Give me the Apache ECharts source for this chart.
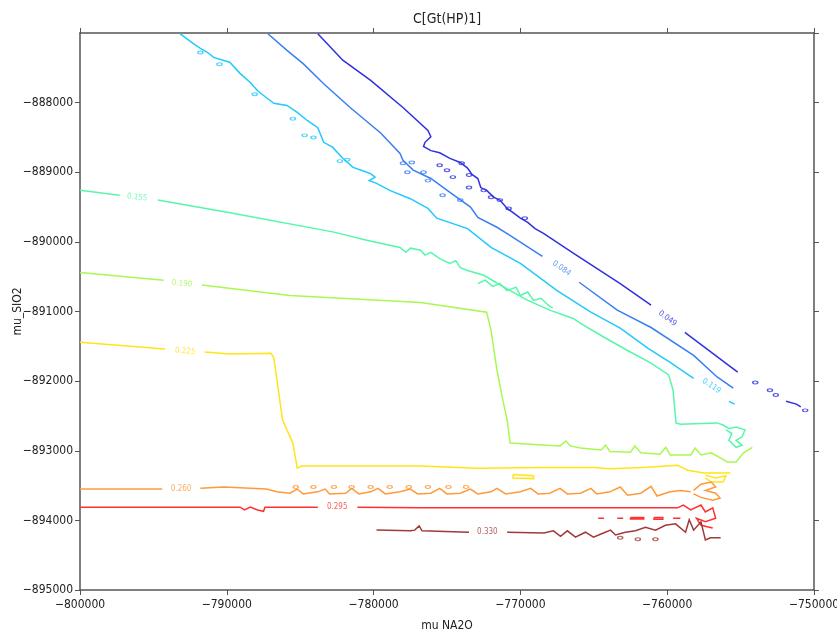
<!DOCTYPE html>
<html>
<head>
<meta charset="utf-8">
<script src="https://cdn.jsdelivr.net/npm/echarts@6.0.0/dist/echarts.min.js"></script>
<style>
  html, body { margin: 0; background: #fff; }
  #chart { width: 837px; height: 634px; }
</style>
</head>
<body>
<div id="chart"></div>
<script>
// contour levels and their labels
const LEVELS = ['0.049', '0.084', '0.119', '0.155', '0.190', '0.225', '0.260', '0.295', '0.330'];
const LABEL_X = [-759980, -767200, -756980, -796110, -793050, -792840, -793110, -782480, -772250];
const LABEL_Y = [-891100, -890380, -892070, -889360, -890600, -891570, -893550, -893810, -894170];
const LABEL_ROT = [-37, -35, -34, -6, -5, -4, 0, 0, 0];

// each level: list of polylines [mu NA2O, mu SIO2]
const LINES_049 = [
  [[-783800, -887010], [-782100, -887390], [-780200, -887680], [-778000, -888070], [-776300, -888400],
   [-776100, -888490], [-776500, -888570], [-776600, -888630], [-776100, -888690], [-775500, -888720],
   [-774800, -888800], [-774100, -888860], [-773600, -888940], [-773300, -889030], [-772900, -889090],
   [-772700, -889220], [-772300, -889260], [-771800, -889360], [-771400, -889400], [-770900, -889520],
   [-770500, -889580], [-770000, -889660], [-769500, -889720], [-769000, -889810], [-768400, -889880],
   [-766400, -890160], [-764800, -890380], [-763200, -890600], [-761100, -890910]],
  [[-758800, -891300], [-755200, -891870]],
  [[-751900, -892290], [-751200, -892330], [-750900, -892370]]
];
const BLOBS_049 = [
  [-774000, -888870], [-773500, -889040], [-773500, -889220], [-772500, -889260], [-772000, -889360],
  [-771400, -889400], [-770800, -889520], [-769700, -889660], [-775500, -888900], [-775000, -888970],
  [-774600, -889070], [-754000, -892020], [-753000, -892130], [-752600, -892200], [-750600, -892420]
];

const LINES_084 = [
  [[-787200, -887010], [-785900, -887250], [-784800, -887440], [-783400, -887730], [-781600, -888070],
   [-779500, -888440], [-778200, -888730], [-778000, -888830], [-777300, -888970], [-776100, -889090],
   [-774800, -889290], [-773400, -889500], [-772900, -889650], [-771600, -889790], [-770900, -889880],
   [-768500, -890210]],
  [[-766000, -890580], [-763400, -890980], [-761100, -891230], [-758200, -891630], [-756600, -891940],
   [-755500, -892100]]
];
const BLOBS_084 = [
  [-778000, -888870], [-777400, -888860], [-777700, -889000], [-776600, -889000], [-776300, -889120],
  [-775300, -889330], [-774100, -889400]
];

const LINES_119 = [
  [[-793200, -887010], [-792300, -887150], [-791800, -887220], [-791300, -887280], [-790900, -887350],
   [-789800, -887420], [-789100, -887580], [-788400, -887710], [-787900, -887830], [-787300, -887930],
   [-786800, -888010], [-785900, -888040], [-785200, -888140], [-784500, -888260], [-783800, -888360],
   [-783400, -888570], [-782800, -888640], [-782100, -888800], [-781400, -888930], [-780600, -888990],
   [-780200, -889020], [-779900, -889070], [-780300, -889120], [-779800, -889160], [-778900, -889260],
   [-777500, -889380], [-776300, -889520], [-775700, -889660], [-773600, -889810], [-772000, -890080],
   [-770000, -890310], [-767500, -890700], [-765200, -891010], [-763200, -891240], [-761300, -891530],
   [-759800, -891730], [-758200, -891960]],
  [[-755800, -892290], [-755400, -892330]]
];
const BLOBS_119 = [
  [-791800, -887280], [-790500, -887450], [-788100, -887880], [-785500, -888230], [-784700, -888470],
  [-784100, -888500], [-782300, -888840], [-781800, -888820]
];

const LINES_155 = [
  [[-800000, -889260], [-797300, -889330]],
  [[-794700, -889400], [-789600, -889590], [-782700, -889860], [-780400, -889980], [-778200, -890080],
   [-777800, -890150], [-777500, -890090], [-776800, -890120], [-776500, -890190], [-776100, -890150],
   [-775500, -890240], [-774800, -890310], [-774400, -890270], [-774100, -890370], [-773600, -890410],
   [-772500, -890480], [-770700, -890700], [-769500, -890840], [-768000, -890980], [-766400, -891100],
   [-765900, -891170], [-764300, -891370], [-762700, -891560], [-761100, -891740], [-759900, -891910],
   [-759600, -892130], [-759400, -892600], [-759100, -892620], [-756600, -892600], [-756200, -892630],
   [-755800, -892680], [-755300, -892660], [-754700, -892700], [-754900, -892800], [-755300, -892850],
   [-754900, -892920], [-755300, -892950], [-755800, -892850], [-755600, -892750], [-756000, -892700]],
  [[-772900, -890600], [-772400, -890550], [-771900, -890640], [-771400, -890600], [-770900, -890700],
   [-770300, -890650], [-770000, -890770], [-769500, -890720], [-769100, -890840], [-768600, -890810],
   [-768100, -890910], [-767800, -890950]]
];

const LINES_190 = [
  [[-800000, -890440], [-794300, -890550]],
  [[-791700, -890620], [-785700, -890770], [-776800, -890870], [-772300, -891010], [-772000, -891270],
   [-771600, -891840], [-771200, -892270], [-770900, -892560], [-770700, -892890], [-768200, -892920],
   [-767300, -892930], [-766900, -892860], [-766600, -892930], [-765900, -892960], [-764500, -892990],
   [-764200, -892920], [-763900, -893010], [-762500, -893020], [-762200, -892930], [-761800, -893030],
   [-760500, -893050], [-760100, -892950], [-759800, -893060], [-758400, -893060], [-758100, -892960],
   [-757700, -893060], [-757000, -893030], [-755900, -893160], [-755300, -893160], [-754800, -893030],
   [-754200, -892950]]
];

const LINES_225 = [
  [[-800000, -891440], [-794200, -891540]],
  [[-791500, -891580], [-789800, -891610], [-787000, -891600], [-786800, -891660], [-786200, -892560],
   [-785500, -892890], [-785200, -893250], [-784900, -893220], [-776800, -893220], [-772900, -893250],
   [-768400, -893240], [-765000, -893240], [-763900, -893260], [-761600, -893240], [-759300, -893210],
   [-758600, -893280], [-757500, -893320], [-755700, -893320]],
  [[-757400, -893350], [-756700, -893390], [-756000, -893360], [-756200, -893450], [-757000, -893450],
   [-757400, -893390]],
  [[-770500, -893340], [-769100, -893360], [-769100, -893400], [-770500, -893390], [-770500, -893340]]
];

const LINES_260 = [
  [[-800000, -893550], [-794400, -893550]],
  [[-791800, -893540], [-790200, -893520], [-787300, -893550], [-786600, -893590], [-785700, -893610],
   [-785200, -893550], [-784800, -893620], [-783800, -893590], [-783300, -893550], [-783000, -893620],
   [-781900, -893610], [-781500, -893540], [-781000, -893620], [-780200, -893590], [-779700, -893540],
   [-779200, -893620], [-778200, -893590], [-777500, -893550], [-777000, -893620], [-776100, -893610],
   [-775500, -893540], [-775000, -893620], [-774100, -893610], [-773400, -893550], [-772900, -893620],
   [-772000, -893590], [-771600, -893540], [-771000, -893620], [-770000, -893590], [-769300, -893540],
   [-768800, -893620], [-768000, -893610], [-767300, -893540], [-766800, -893620], [-765900, -893610],
   [-765200, -893540], [-764800, -893620], [-763900, -893590], [-763200, -893520], [-762700, -893640],
   [-761800, -893610], [-761100, -893510], [-760700, -893650], [-759800, -893590], [-759100, -893570],
   [-758400, -893590]],
  [[-758200, -893570], [-757700, -893480], [-757000, -893450], [-756700, -893520], [-757400, -893570],
   [-756700, -893610], [-756400, -893680], [-756900, -893710], [-757700, -893670], [-758200, -893620]]
];
const DOTS_260 = [
  [-785300, -893520], [-784100, -893520], [-782700, -893520], [-781500, -893520], [-780200, -893520],
  [-778900, -893520], [-777600, -893520], [-776300, -893520], [-774900, -893520], [-773700, -893520]
];

const LINES_295 = [
  [[-800000, -893810], [-789100, -893810], [-788800, -893850], [-788400, -893810], [-787900, -893850],
   [-787500, -893870], [-787400, -893810], [-783800, -893810]],
  [[-781100, -893810], [-776800, -893820], [-771400, -893820], [-764500, -893820], [-759300, -893820],
   [-758900, -893780], [-758400, -893850], [-757700, -893780], [-757400, -893880], [-756900, -893820],
   [-756700, -893970], [-757400, -894020], [-758000, -893970], [-757700, -894070], [-756900, -894110]],
  [[-764700, -893970], [-764300, -893970]],
  [[-763400, -893970], [-763000, -893970]],
  [[-762500, -893960], [-761600, -893960], [-761600, -893980], [-762500, -893980], [-762500, -893960]],
  [[-760900, -893960], [-760300, -893960], [-760300, -893985], [-760900, -893985], [-760900, -893960]],
  [[-759600, -893970], [-759100, -893970]]
];

const LINES_330 = [
  [[-779800, -894140], [-777500, -894150], [-777200, -894140], [-776900, -894080], [-776700, -894150],
   [-773500, -894170]],
  [[-770900, -894170], [-768400, -894180], [-767750, -894150], [-767270, -894230], [-766800, -894150],
   [-766250, -894240], [-765570, -894170], [-765020, -894240], [-764550, -894200], [-763860, -894140],
   [-763520, -894210], [-762840, -894170], [-762160, -894150], [-761480, -894100], [-760800, -894140],
   [-760120, -894070], [-759430, -894050], [-758750, -894170], [-758500, -893990], [-758200, -894140],
   [-757700, -894020], [-757400, -894280], [-757050, -894250], [-756360, -894250]]
];
const LOOPS_330 = [[-763200, -894250], [-762000, -894270], [-760800, -894270]];

const X_TICK_INTERVAL = 10000;
const Y_TICK_INTERVAL = 1000;

const COLORS = ['#3030e0', '#3a7ff2', '#22c8ff', '#55f7aa', '#a8f850', '#ffe41a', '#ff9a3a', '#ff3030', '#a03a3a'];
const FONT = '"DejaVu Sans Condensed", "DejaVu Sans", sans-serif';

const LINE_SETS = [LINES_049, LINES_084, LINES_119, LINES_155, LINES_190, LINES_225, LINES_260, LINES_295, LINES_330];
const MARK_SETS = [BLOBS_049, BLOBS_084, BLOBS_119, [], [], [], DOTS_260, [], LOOPS_330];

const minus = v => String(v).replace('-', '\u2212');

const chart = echarts.init(document.getElementById('chart'));

const series = [];
LINE_SETS.forEach((set, i) => {
  series.push({
    type: 'lines',
    coordinateSystem: 'cartesian2d',
    polyline: true,
    silent: true,
    lineStyle: { color: COLORS[i], width: 1.5, opacity: 1 },
    data: set.map(c => ({ coords: c }))
  });
  if (MARK_SETS[i].length) {
    series.push({
      type: 'scatter',
      silent: true,
      symbol: 'circle',
      symbolSize: [5, 3],
      itemStyle: { color: 'rgba(0,0,0,0)', borderColor: COLORS[i], borderWidth: 1.2 },
      data: MARK_SETS[i]
    });
  }
});

series.push({
  type: 'scatter',
  silent: true,
  symbolSize: 0,
  data: LEVELS.map((t, i) => ({
    value: [LABEL_X[i], LABEL_Y[i]],
    label: {
      show: true,
      position: 'inside',
      formatter: t,
      rotate: LABEL_ROT[i],
      color: COLORS[i],
      fontSize: 8,
      fontFamily: FONT
    }
  }))
});

const axisLine = { show: true, lineStyle: { color: '#555', width: 1.5 } };
const axisTick = { show: true, inside: false, length: 5, lineStyle: { color: '#555', width: 1 } };

chart.setOption({
  animation: false,
  backgroundColor: '#fff',
  title: {
    text: 'C[Gt(HP)1]',
    left: 408,
    top: 7,
    textStyle: { fontSize: 14, fontWeight: 'normal', color: '#222', fontFamily: FONT }
  },
  grid: { left: 80, right: 23, top: 33, bottom: 44, containLabel: false, outerBoundsMode: 'none' },
  xAxis: [
    {
      type: 'value', position: 'bottom',
      min: -800000, max: -750000, interval: X_TICK_INTERVAL,
      name: 'mu NA2O', nameLocation: 'middle', nameGap: 30,
      nameTextStyle: { fontSize: 12, color: '#222', fontFamily: FONT },
      axisLine, axisTick,
      axisLabel: { formatter: minus, fontSize: 12, color: '#222', margin: 9, fontFamily: FONT },
      splitLine: { show: false }
    },
    {
      type: 'value', position: 'top',
      min: -800000, max: -750000, interval: X_TICK_INTERVAL,
      axisLine, axisTick,
      axisLabel: { show: false },
      splitLine: { show: false }
    }
  ],
  yAxis: [
    {
      type: 'value', position: 'left',
      min: -895000, max: -887000, interval: Y_TICK_INTERVAL,
      name: 'mu_SIO2', nameLocation: 'middle', nameGap: 56, nameRotate: 90, nameMoveOverlap: false,
      nameTextStyle: { fontSize: 12, color: '#222', fontFamily: FONT },
      axisLine, axisTick,
      axisLabel: { formatter: minus, fontSize: 12, color: '#222', margin: 7, showMaxLabel: false, fontFamily: FONT },
      splitLine: { show: false }
    },
    {
      type: 'value', position: 'right',
      min: -895000, max: -887000, interval: Y_TICK_INTERVAL,
      axisLine, axisTick,
      axisLabel: { show: false },
      splitLine: { show: false }
    }
  ],
  series
});
</script>
</body>
</html>
